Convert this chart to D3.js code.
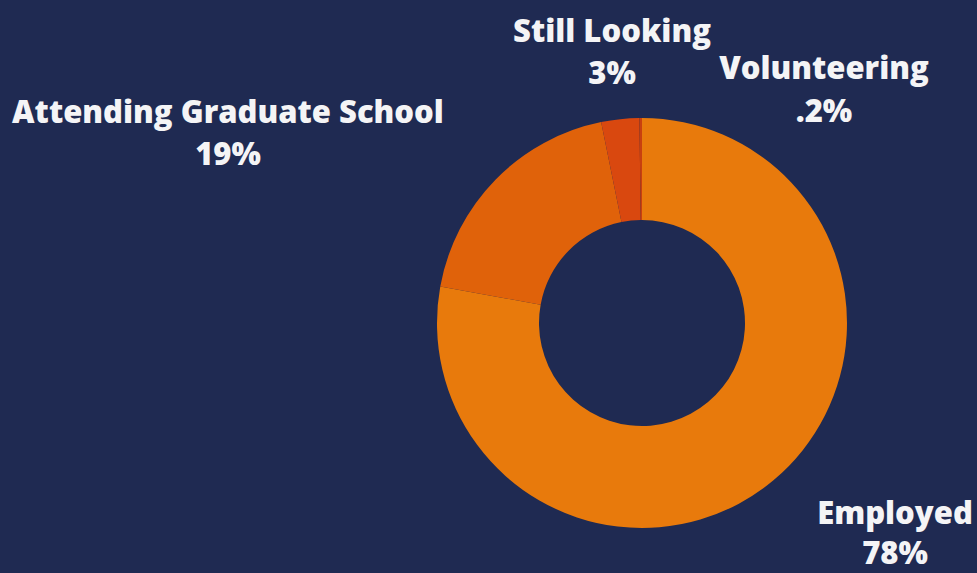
<!DOCTYPE html>
<html><head><meta charset="utf-8">
<script src="https://cdn.jsdelivr.net/npm/d3@7"></script>
<style>
html,body{margin:0;padding:0;background:#1f2a52;}
svg{display:block;}
</style></head><body>
<svg id="chart" width="977" height="573"></svg>
<script>
const categories = ["Employed", "Attending Graduate School", "Still Looking", "Volunteering"];
const values = [78, 19, 3, 0.2];
const valueLabels = ["78%", "19%", "3%", ".2%"];
const colors = ["#e87a0c", "#e0620a", "#d9480f", "#c8400f"];

const W = 977, H = 573;
const svg = d3.select("#chart");
svg.append("rect").attr("width", W).attr("height", H).attr("fill", "#1f2a52");

const cx = 642, cy = 323, outerR = 205, innerR = 103;
const pie = d3.pie().sort(null).value(d => d);
const arcs = pie(values);
const arc = d3.arc().innerRadius(innerR).outerRadius(outerR);

const g = svg.append("g").attr("transform", `translate(${cx},${cy})`);
g.selectAll("path").data(arcs).join("path")
  .attr("d", arc)
  .attr("fill", (d, i) => colors[i]);

// label anchor positions (center of text block, first-line baseline, line gap)
const labelPos = [[895, 524, 40], [228, 123, 42], [612, 42, 42], [824, 79, 43]];
const font = "'Open Sans', sans-serif";
const lbl = svg.append("g").attr("font-family", font).attr("font-weight", 800)
  .attr("fill", "#f4f4f6").attr("font-size", 31).attr("text-anchor", "middle");
categories.forEach((c, i) => {
  const [x, y, gap] = labelPos[i];
  lbl.append("text").attr("x", x).attr("y", y).text(c);
  lbl.append("text").attr("x", x).attr("y", y + gap).text(valueLabels[i]);
});
</script>
</body></html>
